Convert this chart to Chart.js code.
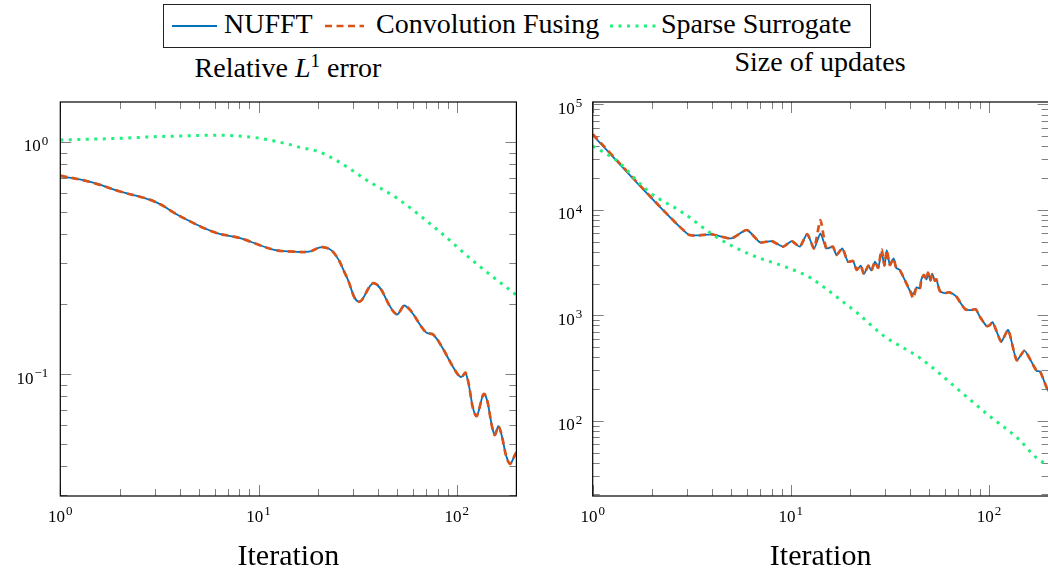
<!DOCTYPE html>
<html>
<head>
<meta charset="utf-8">
<script src="https://cdn.jsdelivr.net/npm/chart.js@4.4.1/dist/chart.umd.min.js"></script>
<style>
  body { margin: 0; width: 1048px; height: 569px; overflow: hidden; background: #fff; position: relative;
         font-family: 'Liberation Serif', 'DejaVu Serif', serif; color: #000; }
  canvas { position: absolute; top: 0; }
  .abs { position: absolute; white-space: nowrap; }
  .legtxt { font-size: 28px; line-height: 28px; }
  .ttl { font-size: 28px; line-height: 28px; text-align: center; width: 400px; }
  sup { font-size: 0.68em; line-height: 0; vertical-align: 0.55em; }
</style>
</head>
<body>
<div class="abs" style="left:163px; top:4px; width:708px; height:44px; border:1px solid #222; box-sizing:border-box;"></div>
<svg class="abs" style="left:0; top:0;" width="1048" height="50">
  <line x1="172" y1="26" x2="217" y2="26" stroke="#0072BD" stroke-width="2"/>
  <line x1="325" y1="26" x2="364" y2="26" stroke="#D95319" stroke-width="2.7" stroke-dasharray="7 4.5"/>
  <line x1="610" y1="26" x2="656" y2="26" stroke="#20F07C" stroke-width="3" stroke-dasharray="3 5.5"/>
</svg>
<div class="abs legtxt" style="left:224px; top:10px;">NUFFT</div>
<div class="abs legtxt" style="left:376px; top:10px;">Convolution Fusing</div>
<div class="abs legtxt" style="left:661px; top:10px;">Sparse Surrogate</div>
<div class="abs ttl" style="left:88px; top:54px;">Relative <i>L</i><sup>1</sup> error</div>
<div class="abs ttl" style="left:620px; top:48px;">Size of updates</div>

<canvas id="leftChart" width="524" height="569" style="left:0"></canvas>
<canvas id="rightChart" width="526" height="569" style="left:524px"></canvas>

<script>
// left panel: relative L1 error
const leftNufftX = [1, 1.4, 2, 3, 4, 6, 8, 12, 15, 18, 21, 24, 27.8, 32, 38.5, 49.5, 55, 70, 76, 85, 96, 105, 111, 125, 138, 155, 163, 184, 200];
const leftNufftY = [0.713, 0.674, 0.612, 0.553, 0.48, 0.408, 0.386, 0.343, 0.337, 0.337, 0.352, 0.333, 0.263, 0.205, 0.246, 0.181, 0.197, 0.151, 0.148, 0.129, 0.107, 0.097, 0.101, 0.066, 0.082, 0.0547, 0.0594, 0.0412, 0.046];
const leftConvX = [1, 1.4, 2, 3, 4, 6, 8, 12, 15, 18, 21, 24, 27.8, 32, 38.5, 49.5, 55, 70, 76, 85, 96, 105, 111, 125, 138, 155, 163, 184, 200];
const leftConvY = [0.716, 0.674, 0.612, 0.553, 0.48, 0.408, 0.386, 0.343, 0.337, 0.337, 0.352, 0.333, 0.263, 0.205, 0.246, 0.181, 0.197, 0.151, 0.148, 0.129, 0.107, 0.097, 0.101, 0.066, 0.082, 0.0547, 0.0594, 0.0412, 0.046];
const leftSparseX = [1, 2, 3, 4, 6, 8, 10, 14, 16, 20, 24, 29, 35, 50, 80, 125, 200];
const leftSparseY = [1.02, 1.037, 1.054, 1.061, 1.07, 1.06, 1.04, 0.98, 0.95, 0.91, 0.845, 0.765, 0.686, 0.572, 0.418, 0.300, 0.219];

// right panel: size of updates
const rightNufftX = [1, 3.03, 4, 5, 6, 7, 8, 9.15, 10.1, 11.1, 12.1, 13.1, 14.1, 15.1, 16.3, 17, 18.2, 19.4, 20.6, 21.5, 22.5, 23.4, 24.6, 25.5, 26.6, 27.6, 28.7, 29.7, 30.5, 31.6, 33, 34, 35.4, 37.6, 39.9, 41.5, 43.1, 44.8, 45.6, 47, 48.4, 49.3, 50.6, 51.8, 53.3, 54.3, 56.5, 59.8, 63.2, 68.6, 72, 76, 81.5, 85.8, 90, 97.3, 100.5, 104.5, 115.3, 125, 138, 151, 160, 174, 181, 194, 200];
const rightNufftY = [50900, 5850, 5850, 5350, 6430, 4910, 5050, 4470, 5050, 4470, 5890, 4300, 5980, 4300, 4470, 3720, 4300, 3220, 3270, 2690, 2960, 2460, 2950, 2660, 3220, 2820, 3920, 2960, 4150, 3000, 3460, 2820, 2700, 2160, 1710, 1590, 1840, 1800, 2190, 2410, 2190, 2530, 2130, 2460, 2130, 2190, 1700, 1620, 1650, 1500, 1300, 1140, 1120, 1140, 970, 790, 800, 860, 564, 726, 375, 463, 393, 297, 294, 214, 190];
const rightConvX = [1, 3.03, 4, 5, 6, 7, 8, 9.15, 10.1, 11.1, 12.1, 13.1, 14.1, 15.1, 16.3, 17, 18.2, 19.4, 20.6, 21.5, 22.5, 23.4, 24.6, 25.5, 26.6, 27.6, 28.7, 29.7, 30.5, 31.6, 33, 34, 35.4, 37.6, 39.9, 41.5, 43.1, 44.8, 45.6, 47, 48.4, 49.3, 50.6, 51.8, 53.3, 54.3, 56.5, 59.8, 63.2, 68.6, 72, 76, 81.5, 85.8, 90, 97.3, 100.5, 104.5, 115.3, 125, 138, 151, 160, 174, 181, 194, 200];
const rightConvY = [52000, 5850, 5850, 5350, 6430, 4910, 5050, 4470, 5050, 4470, 5890, 4300, 7980, 4300, 4470, 3720, 4300, 3220, 3270, 2690, 2960, 2460, 2950, 2660, 3220, 2820, 4200, 2960, 4150, 3000, 3460, 2820, 2700, 2160, 1710, 1450, 1840, 1800, 2190, 2410, 2190, 2530, 2130, 2460, 2130, 2190, 1700, 1620, 1650, 1500, 1300, 1140, 1120, 1140, 970, 790, 800, 860, 564, 726, 375, 463, 393, 297, 294, 214, 185];
const rightSparseX = [1, 1.35, 1.73, 2, 2.8, 4.3, 6.3, 9.3, 11.3, 12.5, 14.7, 17.2, 21.8, 29, 45, 56, 64, 100, 140, 175, 200];
const rightSparseY = [40300, 28400, 17700, 14000, 9600, 5380, 3740, 2895, 2506, 2280, 1847, 1472, 1039, 652, 392, 283, 228, 112, 68, 44, 38];

const leftYTicks = [0.1, 1];
const rightYTicks = [100, 1000, 10000, 100000];
const xTicks = [1, 10, 100];

const FONT = "'Liberation Serif', 'DejaVu Serif', serif";
const BLUE = '#0072BD', ORANGE = '#D95319', GREEN = '#20F07C';

function pts(xs, ys) {
    return xs.map((x, i) => ({x: x, y: ys[i]}));
}

// all log ticks between min and max, major at the decades
function logTicks(min, max) {
    let out = [];
    for (let e = Math.floor(Math.log10(min)); e <= Math.ceil(Math.log10(max)); e++) {
        for (let m = 1; m <= 9; m++) {
            let v = m * Math.pow(10, e);
            if (v >= min * 0.9999 && v <= max * 1.0001) out.push({v: v, major: m === 1});
        }
    }
    return out;
}

function expText(v) {
    return Math.round(Math.log10(v)).toString().replace('-', '\u2212');
}

// draws "10" with a raised exponent, right edge or centre at px
function drawPow(ctx, v, px, base, align) {
    let exp = expText(v);
    ctx.font = '17px ' + FONT;
    let wb = ctx.measureText('10').width;
    ctx.font = '13px ' + FONT;
    let we = ctx.measureText(exp).width;
    let total = wb + 1 + we;
    let x0 = align === 'right' ? px - total : px - total / 2;
    ctx.font = '17px ' + FONT;
    ctx.fillText('10', x0, base);
    ctx.font = '13px ' + FONT;
    ctx.fillText(exp, x0 + wb + 1, base - 6.5);
}

// pgfplots style frame with inward ticks on every side
const frameTicks = {
    id: 'frameTicks',
    beforeDatasetsDraw(chart) {
        const {ctx, chartArea: a, scales} = chart;
        ctx.save();
        ctx.strokeStyle = '#808080';
        ctx.lineWidth = 1;
        ctx.beginPath();
        logTicks(scales.x.min, scales.x.max).forEach(t => {
            let px = Math.round(scales.x.getPixelForValue(t.v)) + 0.5;
            let len = t.major ? 11 : 7;
            ctx.moveTo(px, a.bottom); ctx.lineTo(px, a.bottom - len);
            ctx.moveTo(px, a.top); ctx.lineTo(px, a.top + len);
        });
        logTicks(scales.y.min, scales.y.max).forEach(t => {
            let py = Math.round(scales.y.getPixelForValue(t.v)) + 0.5;
            let len = t.major ? 11 : 7;
            ctx.moveTo(a.left, py); ctx.lineTo(a.left + len, py);
            ctx.moveTo(a.right, py); ctx.lineTo(a.right - len, py);
        });
        ctx.stroke();
        ctx.restore();
    },
    afterDatasetsDraw(chart, args, opts) {
        const {ctx, chartArea: a, scales} = chart;
        ctx.save();
        ctx.strokeStyle = '#000';
        ctx.lineWidth = 1.2;
        ctx.strokeRect(a.left, a.top, a.right - a.left, a.bottom - a.top);
        // tick labels
        ctx.fillStyle = '#000';
        ctx.textAlign = 'left';
        ctx.textBaseline = 'alphabetic';
        scales.x.ticks.forEach(t => {
            drawPow(ctx, t.value, scales.x.getPixelForValue(t.value), a.bottom + 25.5, 'center');
        });
        scales.y.ticks.forEach(t => {
            drawPow(ctx, t.value, a.left - opts.yPad, scales.y.getPixelForValue(t.value) + 9.5, 'right');
        });
        ctx.restore();
    }
};

function makeChart(id, sets, opts) {
    return new Chart(document.getElementById(id), {
        type: 'line',
        data: {
            datasets: [
                {data: pts(sets.sx, sets.sy), borderColor: GREEN, borderWidth: 3, borderDash: [3, 5.5], cubicInterpolationMode: 'monotone'},
                {data: pts(sets.cx, sets.cy), borderColor: ORANGE, borderWidth: 2.7, borderDash: [7, 4.5], tension: opts.tension},
                {data: pts(sets.nx, sets.ny), borderColor: BLUE, borderWidth: 1.8, tension: opts.tension}
            ]
        },
        options: {
            responsive: false,
            animation: false,
            elements: {point: {radius: 0}, line: {borderCapStyle: 'butt'}},
            layout: {padding: {top: 102, left: 0, right: opts.padRight, bottom: 0}},
            plugins: {legend: {display: false}, title: {display: false}, tooltip: {enabled: false},
                      frameTicks: {yPad: opts.yPad}},
            scales: {
                x: {
                    type: 'logarithmic', min: 1, max: 200,
                    grid: {display: false, drawTicks: false},
                    border: {display: false},
                    afterBuildTicks: s => { s.ticks = xTicks.map(v => ({value: v})); },
                    afterFit: s => { s.height = 73; },
                    ticks: {display: false},
                    title: {display: true, text: 'Iteration', color: '#000', font: {family: FONT, size: 30, lineHeight: 0.8}, padding: 0}
                },
                y: {
                    type: 'logarithmic', min: opts.ymin, max: opts.ymax,
                    grid: {display: false, drawTicks: false},
                    border: {display: false},
                    afterBuildTicks: s => { s.ticks = opts.yTicks.map(v => ({value: v})); },
                    afterFit: s => { s.width = opts.yWidth; },
                    ticks: {display: false}
                }
            }
        },
        plugins: [frameTicks]
    });
}

makeChart('leftChart',
    {nx: leftNufftX, ny: leftNufftY, cx: leftConvX, cy: leftConvY, sx: leftSparseX, sy: leftSparseY},
    {ymin: 0.0298, ymax: 1.487, yTicks: leftYTicks, yWidth: 60.3, yPad: 12, padRight: 7.6, tension: 0.4});

makeChart('rightChart',
    {nx: rightNufftX, ny: rightNufftY, cx: rightConvX, cy: rightConvY, sx: rightSparseX, sy: rightSparseY},
    {ymin: 19.35, ymax: 105100, yTicks: rightYTicks, yWidth: 68.7, yPad: 10.5, padRight: 1.4, tension: 0.2});
</script>
</body>
</html>
